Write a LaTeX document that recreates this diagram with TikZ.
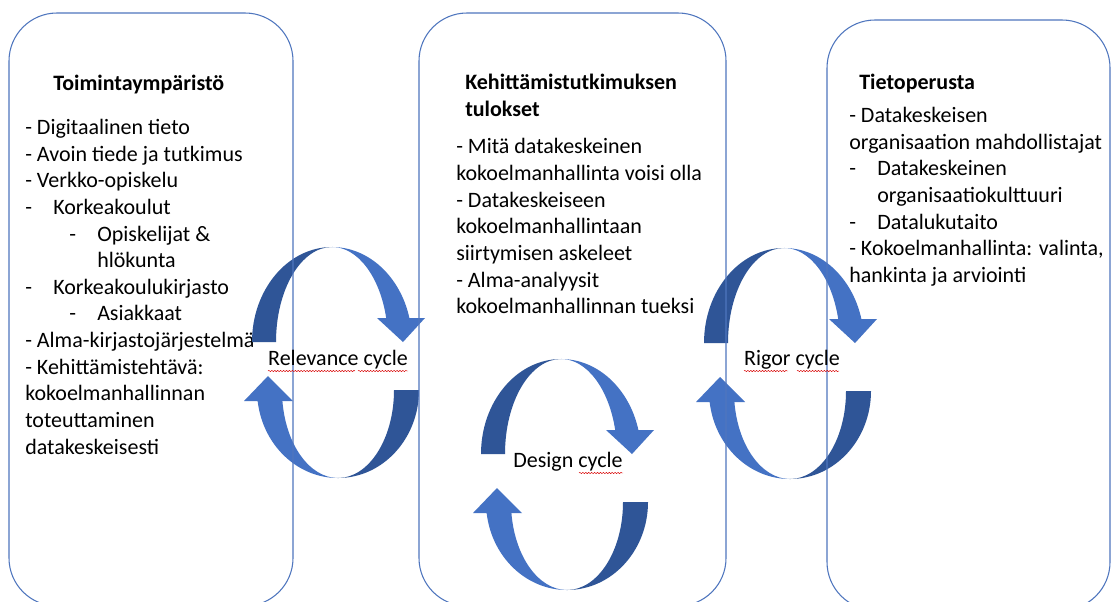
\documentclass[tikz,border=0pt]{standalone}
\usepackage{fontspec}
\setmainfont{Carlito}
\usetikzlibrary{decorations.pathmorphing}
\definecolor{cycdark}{RGB}{47,85,151}
\definecolor{cyclight}{RGB}{68,114,196}
\definecolor{boxline}{RGB}{79,118,190}
\newcommand\itemdash{\makebox[21pt][l]{-}}
\tikzset{
  panel/.style={draw=boxline, line width=0.8pt, rounded corners=36pt},
  txt/.style={inner sep=0pt, anchor=base west, font=\fontsize{16.5pt}{20pt}\selectfont},
  head/.style={inner sep=0pt, anchor=base west, font=\fontsize{16.5pt}{20pt}\selectfont\bfseries},
  lbl/.style={inner sep=0pt, anchor=base, font=\fontsize{16.5pt}{20pt}\selectfont},
  squig/.style={draw=red!85!black, line width=0.35pt, decorate, decoration={snake, amplitude=0.5pt, segment length=2.2pt}},
  cyc/.pic={
    \fill[cycdark] (-80,0) arc[start angle=180,end angle=270,x radius=80,y radius=95]
      arc[start angle=270,end angle=180,x radius=56,y radius=95] -- cycle;
    \fill[cyclight] (0,-95) arc[start angle=270,end angle=345.4,x radius=80,y radius=95]
      -- (93,-24) -- (71,0) -- (45,-24) -- (54.2,-24)
      arc[start angle=345.4,end angle=270,x radius=56,y radius=95] -- cycle;
    \fill[cycdark] (87,48) arc[start angle=0,end angle=90,x radius=81,y radius=88]
      arc[start angle=90,end angle=0,x radius=56,y radius=88] -- (62,48) -- cycle;
    \fill[cyclight] (6,136) arc[start angle=90,end angle=172.8,x radius=81,y radius=88]
      -- (-88,59) -- (-64,34) -- (-39,59) -- (-49.6,59)
      arc[start angle=172.8,end angle=90,x radius=56,y radius=88] -- cycle;
  }
}
\begin{document}
\begin{tikzpicture}[x=0.75pt,y=-0.75pt]
\useasboundingbox (0,0) rectangle (1112,601);
\clip (0,0) rectangle (1112,601);
\fill[white] (0,0) rectangle (1112,601);

% texts
\node[head] (h1) at (53,90) {Toimintaympäristö};
\foreach \x/\y/\t [count=\i] in {
  25/134/{- Digitaalinen tieto},
  25/161/{- Avoin tiede ja tutkimus},
  25/187/{- Verkko-opiskelu},
  25/214/{\itemdash Korkeakoulut},
  69/241/{\itemdash Opiskelijat \&},
  97/267/{hlökunta},
  25/294/{\itemdash Korkeakoulukirjasto},
  69/320/{\itemdash Asiakkaat},
  25/347/{- Alma-kirjastojärjestelmä},
  25/374/{- Kehittämistehtävä:},
  25/400/{kokoelmanhallinnan},
  25/427/{toteuttaminen},
  25/454/{datakeskeisesti}}
  \node[txt] (a\i) at (\x,\y) {\t};

\node[head] (h2a) at (465,89) {Kehittämistutkimuksen};
\node[head] (h2b) at (465,116) {tulokset};
\foreach \x/\y/\t [count=\i] in {
  456/153/{- Mitä datakeskeinen},
  456/180/{kokoelmanhallinta voisi olla},
  456/207/{- Datakeskeiseen},
  456/233/{kokoelmanhallintaan},
  456/260/{siirtymisen askeleet},
  456/287/{- Alma-analyysit},
  456/313/{kokoelmanhallinnan tueksi}}
  \node[txt] (b\i) at (\x,\y) {\t};

\node[head] (h3) at (859,89) {Tietoperusta};
\foreach \x/\y/\t [count=\i] in {
  849/122/{- Datakeskeisen},
  849/149/{organisaation mahdollistajat},
  849/175/{\itemdash Datakeskeinen},
  877/202/{organisaatiokulttuuri},
  849/229/{\itemdash Datalukutaito},
  849/255/{- Kokoelmanhallinta: valinta,},
  849/282/{hankinta ja arviointi}}
  \node[txt] (c\i) at (\x,\y) {\t};

% cycle arrows
\pic at (332,342) {cyc};
\pic at (784,343) {cyc};
\pic at (561,454) {cyc};

% panels
\draw[panel] (9,13) rectangle (293,606);
\draw[panel] (419,13) rectangle (726,606);
\draw[panel] (827,20) rectangle (1110,610);

% cycle labels
\node[lbl] (rel) at (338,365) {Relevance cycle};
\node[lbl] (rig) at (792,365) {Rigor cycle};
\node[lbl] (des) at (568,467) {Design cycle};
\draw[squig] (268,371) -- (355,371);
\draw[squig] (358,371) -- (408,371);
\draw[squig] (744,371) -- (788,371);
\draw[squig] (797,371) -- (839,371);
\draw[squig] (579,473) -- (623,473);
\end{tikzpicture}
\end{document}
